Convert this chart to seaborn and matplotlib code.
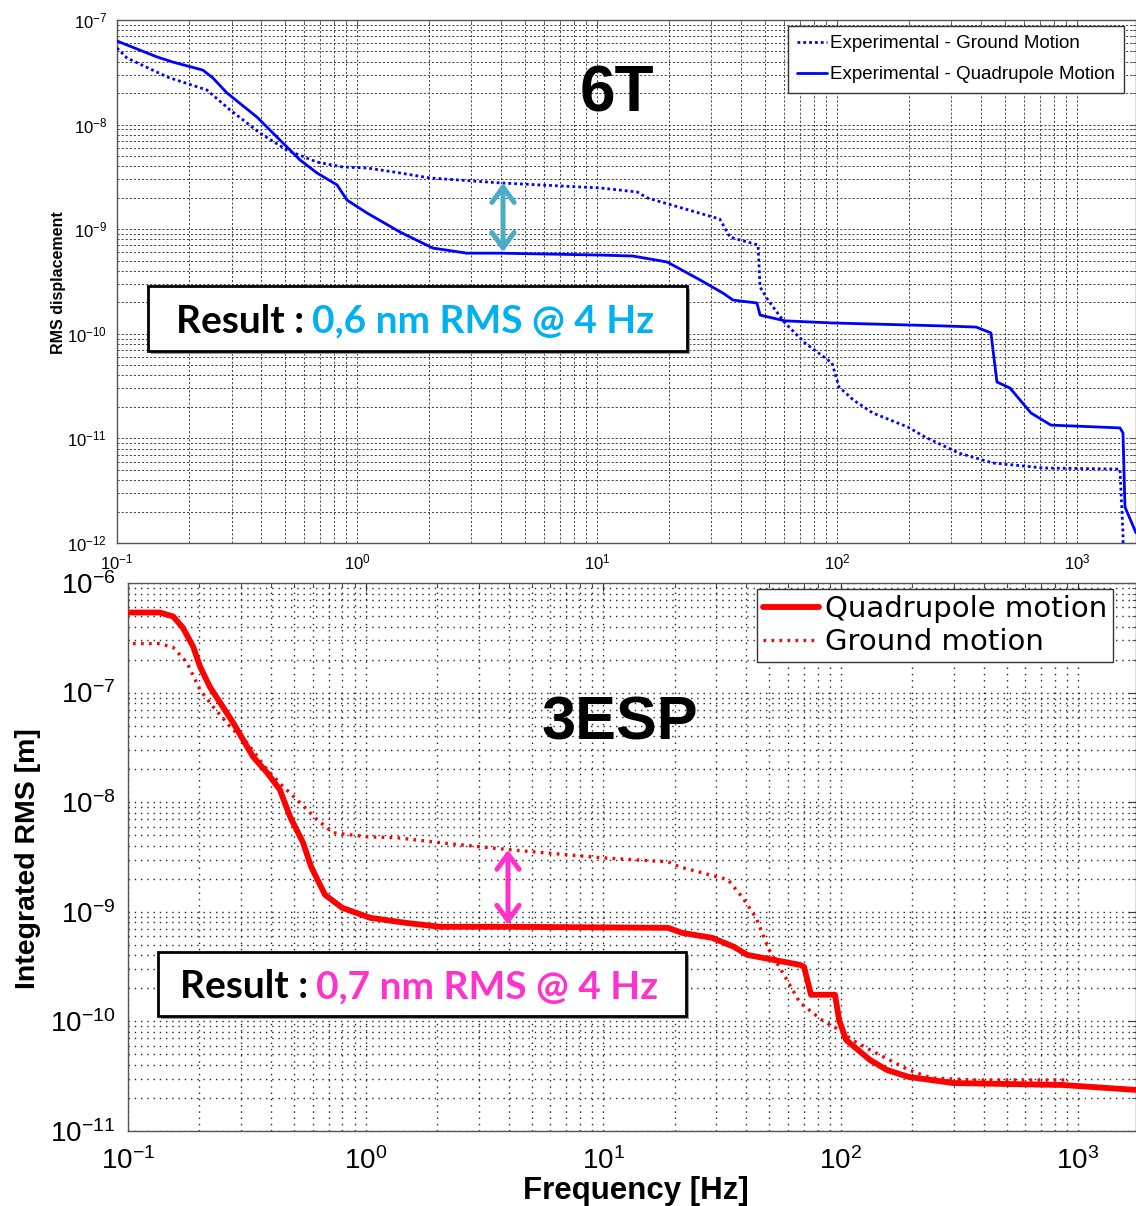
import numpy as np
import pandas as pd
import matplotlib
matplotlib.use("Agg")
import matplotlib.pyplot as plt
import seaborn as sns
from matplotlib.patches import Rectangle
from matplotlib.lines import Line2D
from matplotlib.ticker import LogLocator, NullFormatter

# ---------------- data ----------------
top_quad_freq = [0.1, 0.147, 0.171, 0.228, 0.251, 0.287, 0.383, 0.511, 0.579, 0.681,
                 0.826, 0.908, 1.10, 1.51, 2.07, 2.87, 3.94, 10.3, 14.1, 19.6,
                 26.9, 33.5, 36.9, 46.4, 47.8, 60.7, 95.3, 274, 380, 438,
                 464, 526, 643, 779, 1510, 1555, 1585, 1762]
top_quad_rms = [6.3e-8, 4.43e-8, 3.96e-8, 3.32e-8, 2.79e-8, 2.01e-8, 1.18e-8, 6.1e-9, 4.59e-9, 3.45e-9,
                2.65e-9, 1.90e-9, 1.43e-9, 9.4e-10, 6.6e-10, 5.9e-10, 5.9e-10, 5.66e-10, 5.54e-10, 4.86e-10,
                3.27e-10, 2.45e-10, 2.10e-10, 1.97e-10, 1.51e-10, 1.33e-10, 1.27e-10, 1.19e-10, 1.16e-10, 1.02e-10,
                3.46e-11, 3.03e-11, 1.75e-11, 1.34e-11, 1.26e-11, 1.13e-11, 2.21e-12, 1.25e-12]

top_ground_freq = [0.1, 0.110, 0.162, 0.237, 0.296, 0.394, 0.511, 0.681, 0.874, 1.10,
                   1.51, 2.01, 3.94, 10.3, 14.7, 16.2, 32.5, 35.8, 46.9, 47.8,
                   51.6, 60.7, 73.6, 95.3, 102, 117, 141, 198, 233, 322,
                   447, 729, 1510, 1555, 1560]
top_ground_rms = [5.4e-8, 4.34e-8, 2.85e-8, 2.14e-8, 1.38e-8, 8.3e-9, 5.7e-9, 4.38e-9, 3.93e-9, 3.85e-9,
                  3.45e-9, 3.09e-9, 2.77e-9, 2.48e-9, 2.27e-9, 1.99e-9, 1.25e-9, 8.4e-10, 7.06e-10, 2.80e-10,
                  2.10e-10, 1.27e-10, 8.17e-11, 5.26e-11, 3.10e-11, 2.33e-11, 1.75e-11, 1.28e-11, 1.03e-11, 7.24e-12,
                  5.82e-12, 5.21e-12, 5.09e-12, 1.25e-12, 5e-13]

bottom_quad_freq = [0.1, 0.136, 0.155, 0.17, 0.188, 0.201, 0.221, 0.277, 0.336, 0.385,
                    0.436, 0.481, 0.546, 0.59, 0.675, 0.796, 1.045, 1.47, 2.06, 4.06,
                    18.8, 21.5, 28.8, 35.6, 40.4, 67.5, 70.2, 75.1, 94.8, 98.6,
                    105.5, 133, 157, 194, 298, 857, 1754]
bottom_quad_rms = [5.38e-7, 5.38e-7, 4.95e-7, 3.92e-7, 2.63e-7, 1.73e-7, 1.13e-7, 5.32e-8, 2.6e-8, 1.86e-8,
                   1.3e-8, 7.38e-9, 4.27e-9, 2.58e-9, 1.43e-9, 1.09e-9, 8.82e-10, 7.94e-10, 7.3e-10, 7.3e-10,
                   7.14e-10, 6.43e-10, 5.79e-10, 4.79e-10, 4.05e-10, 3.28e-10, 3.15e-10, 1.75e-10, 1.75e-10, 1.03e-10,
                   6.78e-11, 4.45e-11, 3.6e-11, 3.11e-11, 2.74e-11, 2.63e-11, 2.37e-11]

bottom_ground_freq = [0.105, 0.136, 0.155, 0.177, 0.201, 0.228, 0.269, 0.317, 0.385, 0.45,
                      0.53, 0.625, 0.73, 1.01, 1.36, 2.06, 4.06, 9.9, 18.8, 20.9,
                      33.6, 38.5, 44.1, 50.0, 57.8, 67.5, 83.5, 98.6, 112, 133,
                      194, 240, 368, 900]
bottom_ground_rms = [2.8e-7, 2.8e-7, 2.58e-7, 1.88e-7, 1.06e-7, 7.44e-8, 4.89e-8, 3.49e-8, 1.98e-8, 1.39e-8,
                     9.9e-9, 6.92e-9, 5.26e-9, 4.84e-9, 4.74e-9, 4.27e-9, 3.68e-9, 3.11e-9, 2.86e-9, 2.58e-9,
                     1.96e-9, 1.37e-9, 8.8e-10, 4.5e-10, 2.66e-10, 1.48e-10, 1.03e-10, 8.36e-11, 6.78e-11, 5.5e-11,
                     3.6e-11, 3.05e-11, 2.92e-11, 2.92e-11]

top_labels = ["Experimental - Ground Motion", "Experimental - Quadrupole Motion"]
bottom_labels = ["Quadrupole motion", "Ground motion"]
top_arrow_freq = 4.06
top_arrow_span = [2.77e-9, 6.05e-10]
bottom_arrow_freq = 3.98
bottom_arrow_span = [3.68e-9, 7.6e-10]

# ---------------- style ----------------
sns.set_style("white")
plt.rcParams["font.family"] = ["Liberation Sans", "DejaVu Sans"]
plt.rcParams["mathtext.fontset"] = "custom"
plt.rcParams["mathtext.rm"] = "Liberation Sans"
plt.rcParams["mathtext.it"] = "Liberation Sans:italic"
plt.rcParams["mathtext.bf"] = "Liberation Sans:bold"
plt.rcParams["axes.unicode_minus"] = False
plt.rcParams["text.color"] = "black"
plt.rcParams["axes.labelcolor"] = "black"
plt.rcParams["xtick.color"] = "black"
plt.rcParams["ytick.color"] = "black"

W, H = 1136, 1206
fig = plt.figure(figsize=(W / 100, H / 100), dpi=100)
fig.patch.set_facecolor("white")

def fx(px):
    return px / W

def fy(py):
    return 1 - py / H

ax1 = fig.add_axes([fx(117), fy(543), fx(1136) - fx(117), fy(20) - fy(543)])
ax2 = fig.add_axes([fx(128), fy(1131), fx(1136) - fx(128), fy(583) - fy(1131)])

df_tq = pd.DataFrame({"f": top_quad_freq, "v": top_quad_rms})
df_tg = pd.DataFrame({"f": top_ground_freq, "v": top_ground_rms})
df_bq = pd.DataFrame({"f": bottom_quad_freq, "v": bottom_quad_rms})
df_bg = pd.DataFrame({"f": bottom_ground_freq, "v": bottom_ground_rms})

blue = "#0000FF"
red = "#FF0000"

sns.lineplot(data=df_tg, x="f", y="v", ax=ax1, color=blue, lw=2.0,
             linestyle=(0, (1.0, 1.1)), estimator=None, sort=False, zorder=3)
sns.lineplot(data=df_tq, x="f", y="v", ax=ax1, color=blue, lw=2.0,
             estimator=None, sort=False, zorder=3)

sns.lineplot(data=df_bg, x="f", y="v", ax=ax2, color=red, lw=2.4,
             linestyle=(0, (0.8, 1.6)), estimator=None, sort=False, zorder=3)
sns.lineplot(data=df_bq, x="f", y="v", ax=ax2, color=red, lw=4.2,
             estimator=None, sort=False, zorder=4)

for ax in (ax1, ax2):
    ax.set_xscale("log")
    ax.set_yscale("log")
    ax.xaxis.set_major_locator(LogLocator(base=10, numticks=20))
    ax.xaxis.set_minor_locator(LogLocator(base=10, subs=np.arange(2, 10), numticks=50))
    ax.yaxis.set_major_locator(LogLocator(base=10, numticks=20))
    ax.yaxis.set_minor_locator(LogLocator(base=10, subs=np.arange(2, 10), numticks=50))
    ax.xaxis.set_minor_formatter(NullFormatter())
    ax.yaxis.set_minor_formatter(NullFormatter())
    ax.set_xlabel("")
    ax.set_ylabel("")
    ax.tick_params(which="both", direction="in", top=True, right=True)
    ax.set_facecolor("white")

ax1.set_xlim(0.1, 10 ** 3.246)
ax1.set_ylim(1e-12, 1e-7)
ax2.set_xlim(0.1, 10 ** 3.244)
ax2.set_ylim(1e-11, 1e-6)

ax1.grid(True, which="both", color="#444444", linestyle=(0, (2.2, 2.0)), lw=0.7)
ax2.grid(True, which="both", color="#222222", linestyle=(0, (1.0, 3.5)), lw=1.0)
for ax in (ax1, ax2):
    ax.set_axisbelow(True)
    for s in ax.spines.values():
        s.set_color("#555555")
        s.set_linewidth(1.0)

ax1.tick_params(which="major", labelsize=12, pad=7, length=5, color="#555555")
ax1.tick_params(which="minor", length=3, color="#555555")
ax2.tick_params(which="major", labelsize=20, pad=9, length=6, color="#333333")
ax2.tick_params(axis="x", which="major", pad=12)
ax2.tick_params(which="minor", length=3, color="#333333")

ax1.set_ylabel("RMS displacement", fontsize=11.5, fontweight="bold")
ax1.yaxis.set_label_coords(-0.05, 0.497)
ax2.set_ylabel("Integrated RMS [m]", fontsize=20.5, fontweight="bold")
ax2.yaxis.set_label_coords(-0.086, 0.497)
ax2.set_xlabel("Frequency [Hz]", fontsize=22.5, fontweight="bold")
ax2.xaxis.set_label_coords(0.504, -0.083)

# legends
h_top = [Line2D([], [], color=blue, lw=2.0, linestyle=(0, (1.0, 1.1))),
         Line2D([], [], color=blue, lw=2.0)]
leg1 = ax1.legend(h_top, top_labels, loc="upper left",
                  bbox_to_anchor=(fx(788), fy(26)), bbox_transform=fig.transFigure,
                  fontsize=13.5, frameon=True, fancybox=False, framealpha=1,
                  edgecolor="#333333", borderaxespad=0, handlelength=1.6,
                  handletextpad=0.12, labelspacing=0.72, borderpad=0.5)
leg1.get_frame().set_linewidth(1.0)
leg1.set_zorder(10)

h_bot = [Line2D([], [], color=red, lw=4.2),
         Line2D([], [], color=red, lw=2.4, linestyle=(0, (0.8, 1.6)))]
leg2 = ax2.legend(h_bot, bottom_labels, loc="upper left",
                  bbox_to_anchor=(fx(757), fy(589)), bbox_transform=fig.transFigure,
                  prop={"family": ["DejaVu Sans"], "size": 21}, frameon=True, fancybox=False,
                  framealpha=1, edgecolor="#333333", borderaxespad=0, handlelength=1.9,
                  handletextpad=0.2, labelspacing=0.15, borderpad=0.22)
leg2.get_frame().set_linewidth(1.0)
leg2.set_zorder(10)

# panel titles
fig.text(fx(617), fy(95), "6T", fontsize=46, fontweight="bold", ha="center", va="center", zorder=8)
fig.text(fx(620), fy(724), "3ESP", fontsize=44, fontweight="bold", ha="center", va="center", zorder=8)

# arrows
ax1.annotate("", xy=(top_arrow_freq, top_arrow_span[1]), xytext=(top_arrow_freq, top_arrow_span[0]),
             arrowprops=dict(arrowstyle="<->,head_length=1.1,head_width=0.8", lw=3.6,
                             color="#4BACC6", shrinkA=0, shrinkB=0), zorder=6)
ax2.annotate("", xy=(bottom_arrow_freq, bottom_arrow_span[1]), xytext=(bottom_arrow_freq, bottom_arrow_span[0]),
             arrowprops=dict(arrowstyle="<->,head_length=1.1,head_width=0.8", lw=3.6,
                             color="#FF33CC", shrinkA=0, shrinkB=0), zorder=6)

# result boxes
def result_box(x0, y0, x1, y1, tx_black, tx_col, text_col, color, ycen):
    shadow = Rectangle((fx(x0) + 3 / W, fy(y1) - 3 / H), fx(x1) - fx(x0), fy(y0) - fy(y1),
                       transform=fig.transFigure, facecolor="#999999", edgecolor="none", zorder=7)
    box = Rectangle((fx(x0), fy(y1)), fx(x1) - fx(x0), fy(y0) - fy(y1),
                    transform=fig.transFigure, facecolor="white", edgecolor="black", lw=2.0, zorder=7.5)
    fig.patches.extend([shadow, box])
    fig.text(fx(tx_black), fy(ycen), "Result :", fontsize=28, fontweight="bold",
             family=["Lato", "DejaVu Sans"], color="black", ha="left", va="center", zorder=9)
    fig.text(fx(tx_col), fy(ycen), text_col, fontsize=28, fontweight="bold",
             family=["Lato", "DejaVu Sans"], color=color, ha="left", va="center", zorder=9)

result_box(148, 286, 687, 351, 176, 312, "0,6 nm RMS @ 4 Hz", "#00B0F0", 321)
result_box(158, 952, 686, 1016, 180, 316, "0,7 nm RMS @ 4 Hz", "#FF33CC", 987)

fig.savefig("out.png", dpi=100, facecolor="white")
